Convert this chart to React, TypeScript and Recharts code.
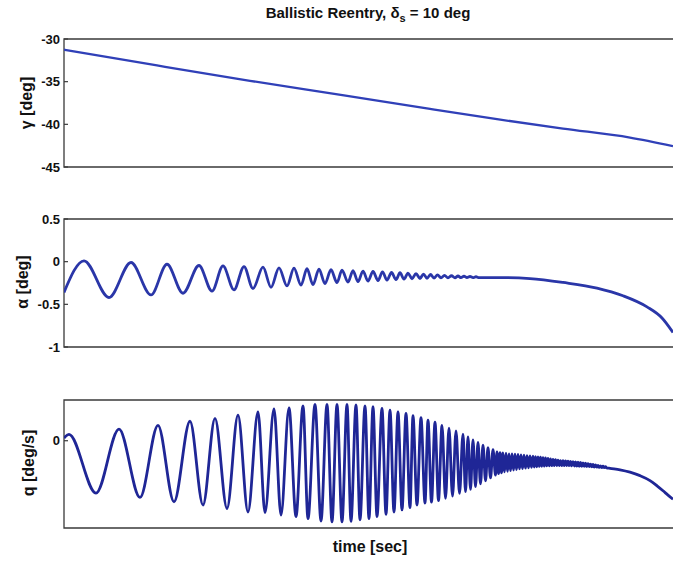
import React from 'react';
import { LineChart, Line, XAxis, YAxis, ReferenceArea } from 'recharts';

// the figure fills the whole 673px window, so drop the default body margin
if (typeof document !== 'undefined') document.body.style.margin = '0';

const FONT = '"Liberation Sans", Arial, Helvetica, sans-serif';
const FRAME = '#3a3a3a';
const T_MAX = 612;

// flight path angle gamma [deg]
const gammaTime = [0, 93, 186, 280, 366, 433, 499, 566, 609];
const gammaDeg = [-31.25, -33.1, -34.9, -36.6, -38.2, -39.4, -40.5, -41.55, -42.55];
const gammaTicks = [-30, -35, -40, -45];

// angle of attack alpha [deg] (peaks / troughs)
const alphaTime = [
  0, 20, 45, 67, 87, 103, 119, 135, 148, 159, 170, 180, 189, 199, 207, 215, 223, 230, 237, 243,
  249, 255, 261, 267, 273, 278, 284, 289, 294, 299, 304, 309, 314, 318.5, 323, 327.5, 332, 336, 340, 344,
  348, 352, 356, 359.5, 363, 366.5, 370, 373.5, 377, 380.5, 384, 387.5, 391, 394, 397, 400, 403, 406, 409, 412,
  415, 440, 466, 499, 533, 559, 583, 598, 609,
];
const alphaDeg = [
  -0.36, 0.01, -0.42, -0.01, -0.39, -0.03, -0.37, -0.045, -0.345, -0.05, -0.33, -0.057, -0.315, -0.065, -0.3, -0.072, -0.284, -0.076, -0.276, -0.083,
  -0.27, -0.087, -0.258, -0.095, -0.246, -0.1, -0.24, -0.105, -0.235, -0.11, -0.228, -0.115, -0.222, -0.12, -0.216, -0.125, -0.21, -0.13, -0.205, -0.135,
  -0.2, -0.14, -0.197, -0.145, -0.195, -0.15, -0.193, -0.155, -0.191, -0.16, -0.19, -0.165, -0.189, -0.168, -0.188, -0.171, -0.187, -0.174, -0.187, -0.177,
  -0.187, -0.187, -0.198, -0.244, -0.31, -0.4, -0.53, -0.66, -0.83,
];
const alphaTicks = [0.5, 0, -0.5, -1];

const qTime = [
  0, 5, 32, 55, 76, 94, 110, 126, 139, 151, 163, 174, 184, 194, 201, 210, 217, 225, 232, 239,
  244, 251, 257, 263, 268, 273, 278, 283, 287, 292, 296, 301, 305, 309, 313, 318, 322, 326, 330, 334,
  338, 342, 346, 349, 353, 357, 361, 364,
  367.5, 371, 374.5, 378, 381.5, 385, 388.5, 392, 395.5, 399,
  401.5, 404, 406.5, 409, 411.5, 414, 416.5, 419, 421.5, 424, 426.5, 429,
  431.5, 433, 434.5, 436, 437.5, 439, 440.5, 442, 443.5, 445, 446.5, 448, 449.5,
  451, 452.5, 454, 455.5, 457, 458.5, 460, 461.5, 463, 464.5, 466, 467.5, 469,
  470.25, 471.5, 472.75, 474, 475.25, 476.5, 477.75, 479, 480.25, 481.5, 482.75, 484, 485.25, 486.5, 487.75,
  489, 490.25, 491.5, 492.75, 494, 495.25, 496.5, 497.75, 499, 500.25, 501.5, 502.75, 504, 505.25, 506.5,
  507.75, 509, 510.25, 511.5, 512.75, 514, 515.25, 516.5, 517.75, 519, 520.25, 521.5, 522.75, 524, 525.25,
  526.5, 527.75, 529, 530.25, 531.5, 532.75, 534, 535.25, 536.5, 537.75, 539, 540.25, 541.5, 542.75,
  546, 556, 566, 576, 586, 593, 599, 604, 609,
];
const qRate = [
  0.09, 0.22, -1.8, 0.4, -1.95, 0.53, -2.1, 0.67, -2.21, 0.77, -2.33, 0.88, -2.45, 0.99, -2.47, 1.09, -2.56, 1.13, -2.61, 1.2,
  -2.68, 1.25, -2.76, 1.25, -2.79, 1.25, -2.79, 1.25, -2.77, 1.23, -2.72, 1.2, -2.68, 1.17, -2.61, 1.11, -2.53, 1.05, -2.45, 0.99,
  -2.38, 0.94, -2.3, 0.86, -2.21, 0.79, -2.14, 0.71,
  -2.11, 0.64, -2.06, 0.53, -1.98, 0.43, -1.9, 0.34, -1.81, 0.23,
  -1.75, 0.13, -1.67, 0.03, -1.58, -0.06, -1.48, -0.15, -1.38, -0.24, -1.28, -0.31,
  -1.18, -0.38, -1.13, -0.41, -1.1, -0.42, -1.07, -0.43, -1.05, -0.45, -1.03, -0.455, -1.01,
  -0.465, -0.99, -0.47, -0.97, -0.485, -0.96, -0.495, -0.945, -0.51, -0.93, -0.52, -0.915, -0.53,
  -0.905, -0.545, -0.895, -0.553, -0.883, -0.563, -0.877, -0.578, -0.872, -0.593, -0.866, -0.608, -0.861, -0.623, -0.858,
  -0.638, -0.856, -0.653, -0.853, -0.668, -0.851, -0.682, -0.852, -0.689, -0.854, -0.696, -0.857, -0.704, -0.859, -0.712,
  -0.863, -0.719, -0.868, -0.727, -0.873, -0.734, -0.878, -0.743, -0.882, -0.758, -0.884, -0.773, -0.887, -0.788, -0.889,
  -0.803, -0.895, -0.818, -0.903, -0.833, -0.91, -0.848, -0.918, -0.863, -0.922, -0.878, -0.927, -0.893, -0.932,
  -0.95, -1.0, -1.08, -1.2, -1.37, -1.55, -1.72, -1.87, -2.01,
];
const qTicks = [0];

const CHART_W = 676;

const toRows = (ts: number[], vs: number[]) => ts.map((t, i) => ({ t, v: vs[i] }));

function LeftTick(props: any) {
  const { x, y, payload } = props;
  return (
    <g>
      <line x1={x + 4} x2={x + 8} y1={y} y2={y} stroke={FRAME} strokeWidth={1.2} />
      <text x={x} y={y} dy={4.5} textAnchor="end" fontFamily={FONT} fontSize={13} fontWeight="bold" fill="#111">
        {String(payload.value)}
      </text>
    </g>
  );
}

function Panel({ rows, domain, ticks, color, width, top }: { rows: any[]; domain: number[]; ticks: number[]; color: string; width: number; top: number }) {
  return (
    <div style={{ position: 'absolute', left: 0, top, width: CHART_W, height: 148 }}>
      <LineChart width={CHART_W} height={148} data={rows} margin={{ top: 10, right: 0, bottom: 10, left: 0 }}>
        <XAxis dataKey="t" type="number" domain={[0, T_MAX]} height={0} tick={false} tickLine={false} axisLine={false} allowDataOverflow />
        <YAxis type="number" domain={domain} ticks={ticks} interval={0} width={64} tickSize={0} tickMargin={4} tickLine={false} axisLine={false} tick={<LeftTick />} allowDataOverflow />
        <ReferenceArea x1={0} x2={T_MAX} y1={domain[0]} y2={domain[1]} fill="none" stroke={FRAME} strokeWidth={1.3} ifOverflow="visible" />
        <Line dataKey="v" type="monotone" stroke={color} strokeWidth={width} dot={false} isAnimationActive={false} />
      </LineChart>
    </div>
  );
}

const labelStyle: React.CSSProperties = {
  position: 'absolute',
  fontFamily: FONT,
  fontWeight: 'bold',
  fontSize: 16,
  color: '#111',
  whiteSpace: 'nowrap',
  lineHeight: '18px',
};

function YLabel({ text, cx, cy }: { text: string; cx: number; cy: number }) {
  return (
    <div style={{ ...labelStyle, left: cx, top: cy, transform: 'translate(-50%, -50%) rotate(-90deg)' }}>{text}</div>
  );
}

export default function App() {
  return (
    <div style={{ position: 'relative', width: 673, height: 563, overflow: 'hidden', background: '#fff' }}>
      <Panel rows={toRows(gammaTime, gammaDeg)} domain={[-45, -30]} ticks={gammaTicks} color="#3040b8" width={2.3} top={29} />
      <Panel rows={toRows(alphaTime, alphaDeg)} domain={[-1, 0.5]} ticks={alphaTicks} color="#2a36a8" width={2.8} top={209} />
      <Panel rows={toRows(qTime, qRate)} domain={[-3, 1.4]} ticks={qTicks} color="#1f2696" width={2.8} top={390} />

      <div style={{ ...labelStyle, fontSize: 15, left: 168, width: 400, top: 4, textAlign: 'center' }}>
        Ballistic Reentry, δ<span style={{ fontSize: 11, position: 'relative', top: 4 }}>s</span> = 10 deg
      </div>

      <YLabel text="γ [deg]" cx={27} cy={103} />
      <YLabel text="α [deg]" cx={23} cy={282} />
      <YLabel text="q [deg/s]" cx={29} cy={463} />

      <div style={{ ...labelStyle, left: 270, width: 200, top: 538, textAlign: 'center' }}>time [sec]</div>
    </div>
  );
}
